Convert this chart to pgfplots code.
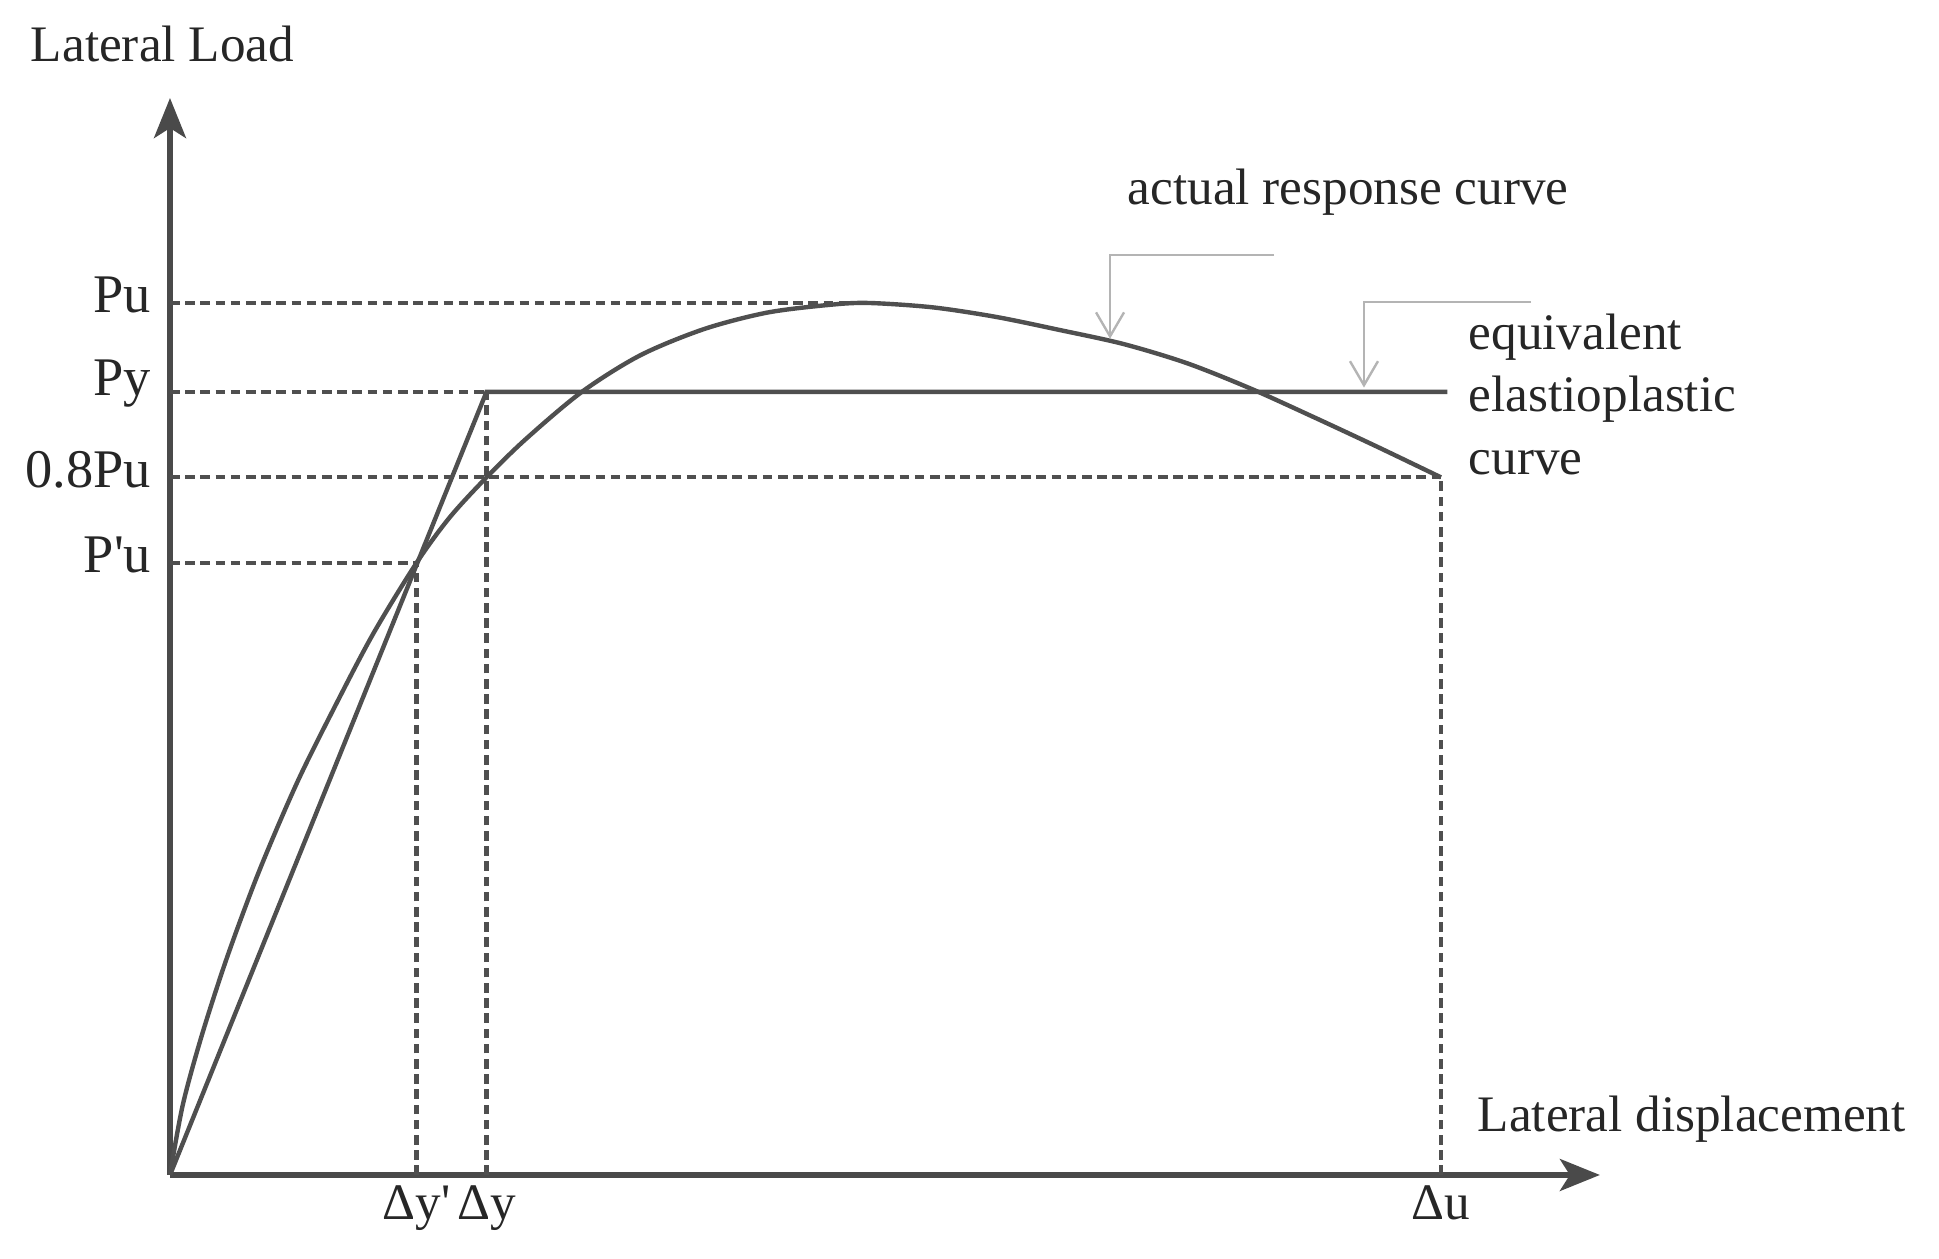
\documentclass[border=0pt]{standalone}
\usepackage{fontspec}
\setmainfont{Liberation Serif}
\usepackage{pgfplots}
\pgfplotsset{compat=1.18}
\usetikzlibrary{arrows.meta}

\definecolor{axisgray}{HTML}{4A4A4A}
\definecolor{linegray}{HTML}{4F4F4F}
\definecolor{annotgray}{HTML}{B4B4B4}
\definecolor{textgray}{HTML}{262626}

\begin{document}
\begin{tikzpicture}
\useasboundingbox (-42.5pt,-21pt) rectangle (442.25pt,293.75pt);
\begin{axis}[
    x=31.775pt, y=2.18pt,
    xmin=0, xmax=11.25,
    ymin=0, ymax=123.5,
    axis lines=left,
    axis line style={draw=axisgray, line width=1.3pt},
    every outer x axis line/.append style={-{Stealth[length=10pt,width=8pt,inset=2.5pt]}},
    every outer y axis line/.append style={-{Stealth[length=10pt,width=8pt,inset=2.5pt]}},
    major tick length=0pt,
    xtick={1.94,2.49,10},
    xticklabels={Δy\textquotesingle, Δy, Δu},
    ytick={70.2,80,89.8,100},
    yticklabels={P\textquotesingle u, 0.8Pu, Py, Pu},
    tick label style={text=textgray, inner sep=0pt},
    xticklabel style={font=\fontsize{12.8}{15}\selectfont, anchor=north, yshift=-2.5pt},
    yticklabel style={font=\fontsize{13.6}{16}\selectfont, anchor=east, xshift=-4.5pt, yshift=2pt},
    clip=false,
]
% dashed reference lines
\pgfplotsset{refline/.style={linegray, line width=1.05pt, dash pattern=on 2.4pt off 1.4pt}}
\addplot[refline] coordinates {(0,100) (5.5,100)};
\addplot[refline] coordinates {(0,89.8) (2.49,89.8)};
\addplot[refline] coordinates {(0,80) (10,80)};
\addplot[refline] coordinates {(0,70.2) (1.94,70.2)};
\addplot[refline] coordinates {(1.94,0) (1.94,70.2)};
\addplot[refline] coordinates {(2.49,0) (2.49,89.8)};
\addplot[refline] coordinates {(10,0) (10,80)};

% equivalent elastoplastic curve
\addplot[linegray, line width=1.1pt] coordinates {(0,0) (2.49,89.8) (10.05,89.8)};

% actual response curve
\addplot[linegray, line width=1.1pt, smooth] coordinates {
    (0,0) (0.1,8) (0.25,16) (0.45,25) (0.7,34.8) (1.0,45.0) (1.3,53.8)
    (1.6,62.1) (1.94,70.2) (2.2,75.4) (2.49,80) (2.8,84.4) (3.24,89.8)
    (3.7,94.0) (4.2,97.0) (4.7,98.9) (5.2,99.8) (5.5,100) (6.0,99.5)
    (6.5,98.4) (7.0,96.9) (7.5,95.3) (8.0,93.1) (8.5,90.2) (9.0,86.9)
    (9.5,83.5) (10,80)
};

% annotation arrows
\draw[annotgray, line width=0.6pt, -{Straight Barb[length=6pt,width=7pt]}]
    (axis cs:8.686,105.5) -- (axis cs:7.396,105.5) -- (axis cs:7.396,95.9);
\draw[annotgray, line width=0.6pt, -{Straight Barb[length=6pt,width=7pt]}]
    (axis cs:10.708,100.1) -- (axis cs:9.394,100.1) -- (axis cs:9.394,90.3);

\begin{scope}[every node/.style={font=\fontsize{12.8}{15}\selectfont, text=textgray, inner sep=0pt}]
\node[anchor=base west] at (axis cs:-1.1,127.64) {Lateral Load};
\node[anchor=base west] at (axis cs:7.53,111.24) {actual response curve};
\node[anchor=base west] at (axis cs:10.212,94.61) {equivalent};
\node[anchor=base west] at (axis cs:10.212,87.5) {elastioplastic};
\node[anchor=base west] at (axis cs:10.212,80.28) {curve};
\node[anchor=base west] at (axis cs:10.283,4.93) {Lateral displacement};
\end{scope}
\end{axis}
\end{tikzpicture}
\end{document}
